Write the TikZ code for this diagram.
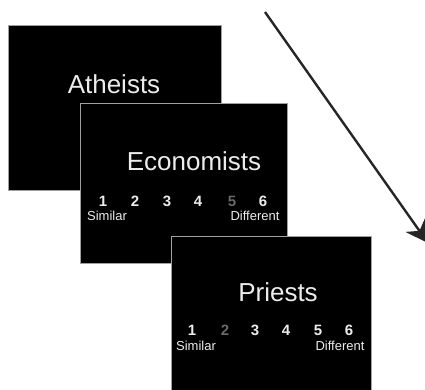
\documentclass[tikz,border=0pt]{standalone}
\usepackage{fontspec}
\setmainfont{Liberation Sans}
\usetikzlibrary{arrows.meta,positioning}
\definecolor{ScreenText}{RGB}{236,236,236}
\definecolor{DimDigit}{RGB}{105,105,105}
\definecolor{FrameGray}{RGB}{160,160,160}
\newcommand{\screen}[4]{%
  \fill[black,draw=FrameGray,line width=0.8pt] (#1,#2) rectangle (#3,#4);}
\tikzset{
  word/.style={text=ScreenText,font=\fontsize{26}{30}\selectfont},
  digit/.style={text=ScreenText,font=\fontsize{15}{17}\selectfont\bfseries},
  dimdigit/.style={digit,text=DimDigit},
  endlabel/.style={text=ScreenText,font=\fontsize{13}{15}\selectfont}
}

\begin{document}
\begin{tikzpicture}[x=1pt,y=-1pt]
  \useasboundingbox (0,0) rectangle (425,390);
  \clip (0,0) rectangle (425,390);
  % first screen
  \screen{8}{25}{221}{190}
  \node[word] (atheists) at (114,84) {Atheists};
  % second screen
  \screen{80}{103}{287}{263}
  \node[word] (economists) at (194,161) {Economists};
  \node[digit] (e1) at (103,201) {1};
  \node[digit] (e2) at (135,201) {2};
  \node[digit] (e3) at (167,201) {3};
  \node[digit] (e4) at (198,201) {4};
  \node[dimdigit] (e5) at (232,201) {5};
  \node[digit] (e6) at (263,201) {6};
  \node[endlabel] (esim) at (107,216) {Similar};
  \node[endlabel] (ediff) at (255,216) {Different};
  % third screen
  \screen{171}{236}{371}{400}
  \node[word] (priests) at (278,292) {Priests};
  \node[digit] (p1) at (192,330) {1};
  \node[dimdigit] (p2) at (225,330) {2};
  \node[digit] (p3) at (255,330) {3};
  \node[digit] (p4) at (286,330) {4};
  \node[digit] (p5) at (318,330) {5};
  \node[digit] (p6) at (349,330) {6};
  \node[endlabel] (psim) at (196,346) {Similar};
  \node[endlabel] (pdiff) at (340,346) {Different};
  % time arrow
  \coordinate (tstart) at (265,12);
  \coordinate (tend) at (428,243);
  \draw[-{Stealth[length=22pt,width=24pt]},line width=2.4pt,black!85] (tstart) -- (tend);
\end{tikzpicture}
\end{document}
